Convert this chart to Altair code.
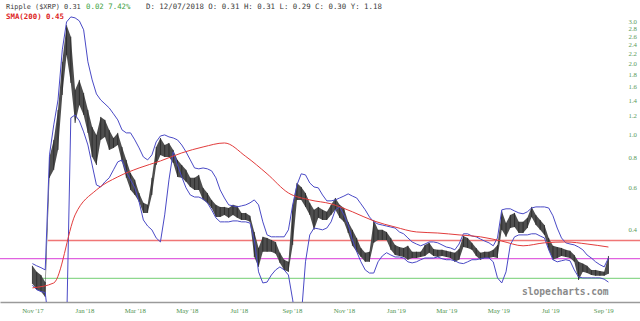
import altair as alt
import pandas as pd

# ---------------- data ----------------
price_start = "2017-11-01"          # candles sampled every 5 days
price_high = [
    .280, .264, .256, .239, .806, .951, 1.273, 2.03, 2.90, 2.59,
    1.545, 1.703, 1.500, 1.273, 1.079, .998, 1.189, 1.155, 1.048, .969,
    1.018, .888, .783, .690, .645, .568, .516, .506, .658, .888,
    .969, .905, .923, .863, .783, .745, .711, .658, .658, .677,
    .597, .568, .531, .506, .496, .496, .491, .506, .501, .468,
    .468, .455, .389, .333, .371, .367, .360, .353, .318, .297,
    .291, .506, .626, .602, .568, .516, .482, .496, .482, .473,
    .506, .541, .506, .491, .429, .397, .367, .333, .318, .321,
    .437, .397, .397, .389, .367, .343, .336, .333, .340, .321,
    .321, .321, .343, .350, .330, .327, .327, .324, .321, .318,
    .330, .374, .367, .350, .333, .318, .321, .321, .327, .343,
    .477, .424, .459, .468, .429, .429, .446, .496, .459, .437,
    .416, .367, .340, .336, .333, .327, .324, .311, .291, .286,
    .280, .269, .269, .266, .264, .308,
]
price_low = [
    .235, .222, .218, .207, .658, .711, .863, 1.471, 2.17, 1.654,
    1.121, 1.335, 1.212, 1.018, .806, .745, .951, .979, .863, .880,
    .905, .768, .658, .585, .557, .521, .468, .468, .557, .745,
    .822, .806, .806, .760, .664, .658, .633, .602, .585, .585,
    .531, .516, .491, .450, .450, .459, .446, .459, .446, .437,
    .437, .429, .305, .277, .321, .321, .321, .315, .288, .269,
    .264, .343, .531, .531, .496, .459, .397, .446, .437, .437,
    .459, .482, .446, .429, .385, .340, .321, .305, .291, .291,
    .350, .360, .360, .360, .327, .311, .308, .305, .297, .302,
    .302, .305, .308, .318, .308, .305, .308, .305, .302, .291,
    .297, .336, .333, .327, .308, .297, .302, .302, .305, .302,
    .397, .371, .404, .408, .385, .385, .404, .450, .416, .397,
    .378, .327, .297, .302, .308, .305, .302, .291, .244, .264,
    .261, .256, .254, .254, .254, .259,
]
bb_upper = [
    .286, .280, .275, .269, .822, 1.100, 1.402, 2.28, 2.99, 3.14,
    3.11, 3.02, 2.77, 2.03, 1.703, 1.486, 1.402, 1.349, 1.297, 1.225,
    1.155, 1.048, 1.018, 1.018, .951, .880, .806, .783, .822, .933,
    .988, .998, .979, .969, .951, .905, .847, .783, .724, .718,
    .724, .718, .704, .658, .585, .541, .506, .501, .496, .501,
    .506, .516, .531, .506, .429, .378, .371, .371, .371, .371,
    .397, .506, .614, .684, .677, .626, .602, .597, .557, .526,
    .526, .531, .541, .551, .563, .551, .541, .511, .482, .450,
    .429, .420, .416, .412, .408, .404, .389, .382, .367, .353,
    .346, .340, .346, .353, .353, .350, .343, .336, .333, .327,
    .346, .382, .382, .374, .371, .363, .356, .350, .340, .367,
    .482, .487, .487, .477, .468, .464, .473, .491, .496, .496,
    .496, .491, .455, .404, .367, .350, .346, .343, .336, .327,
    .311, .302, .291, .283, .277, .302,
]
bb_lower = [
    .232, .222, .218, .216, .15, .15, .15, .15, .15, 1.178,
    1.212, 1.144, 1.028, .905, .745, .614, .602, .633, .658, .711,
    .768, .783, .697, .645, .597, .521, .437, .412, .397, .367,
    .353, .459, .645, .847, .745, .664, .597, .557, .546, .546,
    .536, .516, .482, .446, .429, .429, .429, .433, .433, .429,
    .429, .424, .360, .264, .237, .239, .256, .269, .277, .269,
    .256, .201, .15, .17, .291, .378, .404, .401, .397, .404,
    .429, .482, .496, .459, .416, .360, .321, .291, .269, .261,
    .261, .291, .308, .318, .311, .305, .305, .302, .291, .288,
    .291, .297, .302, .302, .302, .305, .300, .297, .297, .294,
    .288, .286, .291, .297, .297, .300, .302, .302, .291, .249,
    .237, .264, .343, .371, .378, .378, .378, .382, .382, .374,
    .367, .327, .297, .291, .294, .297, .294, .269, .251, .249,
    .249, .249, .249, .249, .246, .239,
]
sma_start = "2017-11-01"            # SMA(200) sampled every 25 days
sma200 = [
    .226, .237, .459, .585, .664, .724, .775, .838, .888, .923,
    .810, .684, .568, .531, .511, .473, .433, .408, .389, .385,
    .378, .371, .356, .340, .350, .353, .346, .336,
]
level_values = [0.358, 0.300, 0.248]
level_starts = ["2017-11-19", "2017-09-24", "2017-11-13"]
level_colors = ["#f07676", "#e062e0", "#8ed88e"]

y_ticks = [0.4, 0.6, 0.8, 1.0, 1.2, 1.4, 1.6, 1.8, 2.0, 2.2, 2.4, 2.6, 2.8, 3.0, 3.2]
x_ticks = ["2017-11-01", "2018-01-01", "2018-03-01", "2018-05-01", "2018-07-01",
           "2018-09-01", "2018-11-01", "2019-01-01", "2019-03-01", "2019-05-01",
           "2019-07-01", "2019-09-01"]
domain_start, domain_end = "2017-09-24", "2019-10-14"

header_main = "Ripple ($XRP) 0.31"
header_change = "0.02 7.42%"
header_rest = "D: 12/07/2018 O: 0.31 H: 0.31 L: 0.29 C: 0.30 Y: 1.18"
header_sma = "SMA(200) 0.45"
watermark = "slopecharts.com"

# ---------------- tables ----------------
n = len(price_high)
dates = pd.date_range(price_start, periods=n, freq="5D").strftime("%Y-%m-%d")
df = pd.DataFrame({"date": dates, "high": price_high, "low": price_low,
                   "upper": bb_upper, "lower": bb_lower})
sma_dates = pd.date_range(sma_start, periods=len(sma200), freq="25D").strftime("%Y-%m-%d")
sma_df = pd.DataFrame({"date": sma_dates, "sma": sma200})
lv_df = pd.DataFrame({"start": level_starts, "end": [domain_end] * 3,
                      "level": level_values, "color": level_colors})


def ms(s):
    return int(pd.Timestamp(s, tz="UTC").value // 10**6)


xscale = alt.Scale(type="utc", domain=[ms(domain_start), ms(domain_end)])
xaxis = alt.Axis(values=[ms(t) for t in x_ticks], format="%b '%y", title=None,
                 labelFont="Liberation Serif", labelFontSize=6.8, labelColor="#4f944f",
                 ticks=False, grid=False, domainColor="#9a9a9a", domainWidth=1.5,
                 labelPadding=5)
yscale = alt.Scale(type="log", domain=[0.197, 3.70])
yaxis = alt.Axis(orient="right", values=y_ticks, format=".1f", title=None, offset=-13,
                 labelPadding=1, labelAlign="left", ticks=False, domain=False, grid=False,
                 labelFont="Liberation Serif", labelFontSize=6.8, labelColor="#5a9a5a")


def X(f):
    return alt.X(f, type="temporal", scale=xscale, axis=xaxis)


def Y(f):
    return alt.Y(f, type="quantitative", scale=yscale, axis=yaxis)


levels = alt.Chart(lv_df).mark_rule(strokeWidth=1.3, clip=True).encode(
    x=X("start"), x2="end:T", y=Y("level"), color=alt.Color("color:N", scale=None))

base = alt.Chart(df)
band = base.mark_area(color="#4e4e4e", clip=True).encode(x=X("date"), y=Y("high"), y2="low")
ticks = base.mark_rule(color="#262626", strokeWidth=0.8, clip=True).encode(
    x=X("date"), y=Y("high"), y2="low")
upper = base.mark_line(color="#4a4ac6", strokeWidth=1, clip=True).encode(x=X("date"), y=Y("upper"))
lower = base.mark_line(color="#4a4ac6", strokeWidth=1, clip=True).encode(x=X("date"), y=Y("lower"))
sma = alt.Chart(sma_df).mark_line(color="#e23c3c", strokeWidth=1, interpolate="monotone",
                                  clip=True).encode(x=X("date"), y=Y("sma"))


def label(text, x, y, color, size=7.4, weight="normal", font="DejaVu Sans Mono"):
    return alt.Chart(pd.DataFrame({"t": [text]})).mark_text(
        align="left", baseline="middle", font=font, fontSize=size,
        fontWeight=weight, color=color).encode(
        x=alt.value(x), y=alt.value(y), text="t:N")


texts = [
    label(header_main, 6, 7, "#3a3a3a", size=6.9),
    label(header_change, 86, 7, "#3f9f3f"),
    label(header_rest, 146, 7, "#3a3a3a"),
    label(header_sma, 6, 17, "#dd1f1f", weight="bold"),
    label(watermark, 522, 292, "#8a8a8a", size=9.6, weight="bold", font="DejaVu Sans Mono"),
]

chart = alt.layer(levels, band, ticks, upper, lower, sma, *texts).properties(
    width=640, height=302,
    padding={"left": 0, "right": 0, "top": 0, "bottom": 19},
    autosize=alt.AutoSizeParams(type="none"),
).configure_view(stroke=None)

chart.save("out.html", embed_options={"renderer": "svg", "actions": False})
